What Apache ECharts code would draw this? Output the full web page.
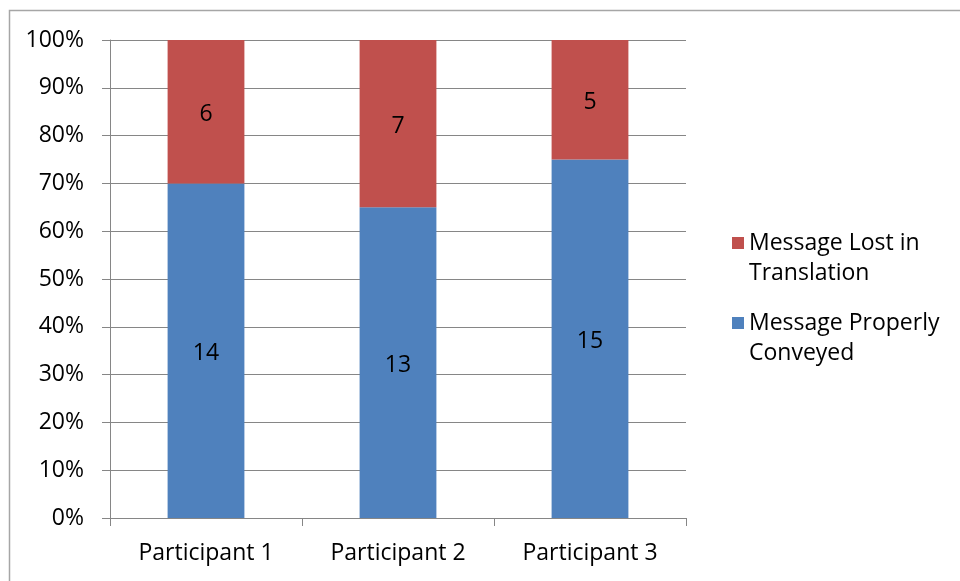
<!DOCTYPE html>
<html>
<head>
<meta charset="utf-8">
<script src="https://cdn.jsdelivr.net/npm/echarts@6/dist/echarts.min.js"></script>
<style>
  html, body { margin: 0; padding: 0; background: #fff; }
  #chart { width: 960px; height: 581px; }
</style>
</head>
<body>
<div id="chart"></div>
<script>
  // 数据
  var categories = ['Participant 1', 'Participant 2', 'Participant 3'];
  var conveyed = [14, 13, 15];
  var lost = [6, 7, 5];
  var yTicks = ['0%', '10%', '20%', '30%', '40%', '50%', '60%', '70%', '80%', '90%', '100%'];

  var totals = conveyed.map(function (v, i) { return v + lost[i]; });
  function pct(arr) {
    return arr.map(function (v, i) { return { value: v / totals[i] * 100, count: v }; });
  }

  var font = 'Open Sans';
  var fs = 23;
  var myChart = echarts.init(document.getElementById('chart'));
  var option = {
    animation: false,
    textStyle: { fontFamily: font },
    graphic: [{
      type: 'rect',
      shape: { x: 9.5, y: 10.5, width: 1200, height: 1200 },
      style: { fill: 'none', stroke: '#a6a6a6', lineWidth: 1.5 },
      silent: true
    }],
    grid: { left: 110, top: 40, right: 274, bottom: 63 },
    legend: {
      orient: 'vertical',
      left: 727,
      top: 189,
      itemWidth: 12,
      itemHeight: 12,
      itemGap: -18,
      itemStyle: { borderWidth: 0 },
      icon: 'rect',
      data: ['Message Lost in Translation', 'Message Properly Conveyed'],
      // 空的第一行让图标对齐文字第一行
      formatter: function (name) {
        return name === 'Message Lost in Translation'
          ? ' \nMessage Lost in\nTranslation' : ' \nMessage Properly\nConveyed';
      },
      textStyle: { fontFamily: font, fontSize: fs, color: '#000', lineHeight: 30, padding: [8, 0, 0, 0] }
    },
    xAxis: {
      type: 'category',
      data: categories,
      axisLine: { lineStyle: { color: '#868686', width: 1 } },
      axisTick: { show: true, length: 8, lineStyle: { color: '#868686' } },
      axisLabel: { color: '#000', fontSize: fs, margin: 24, fontFamily: font }
    },
    yAxis: {
      type: 'value',
      min: 0,
      max: 100,
      interval: 10,
      axisLine: { show: true, lineStyle: { color: '#868686', width: 1 } },
      axisTick: { show: true, length: 8, lineStyle: { color: '#868686' } },
      splitLine: { lineStyle: { color: '#868686', width: 1 } },
      axisLabel: {
        color: '#000', fontSize: fs, margin: 26, fontFamily: font,
        formatter: function (v) { return yTicks[Math.round(v / 10)]; }
      }
    },
    series: [
      {
        name: 'Message Properly Conveyed',
        type: 'bar',
        stack: 'total',
        barWidth: '40%',
        itemStyle: { color: '#4F81BD' },
        label: {
          show: true, position: 'inside', offset: [0, 3], color: '#000', fontSize: fs, fontFamily: font,
          formatter: function (p) { return p.data.count; }
        },
        data: pct(conveyed)
      },
      {
        name: 'Message Lost in Translation',
        type: 'bar',
        stack: 'total',
        barWidth: '40%',
        itemStyle: { color: '#C0504D' },
        label: {
          show: true, position: 'inside', offset: [0, 3], color: '#000', fontSize: fs, fontFamily: font,
          formatter: function (p) { return p.data.count; }
        },
        data: pct(lost)
      }
    ]
  };
  myChart.setOption(option);
</script>
</body>
</html>
